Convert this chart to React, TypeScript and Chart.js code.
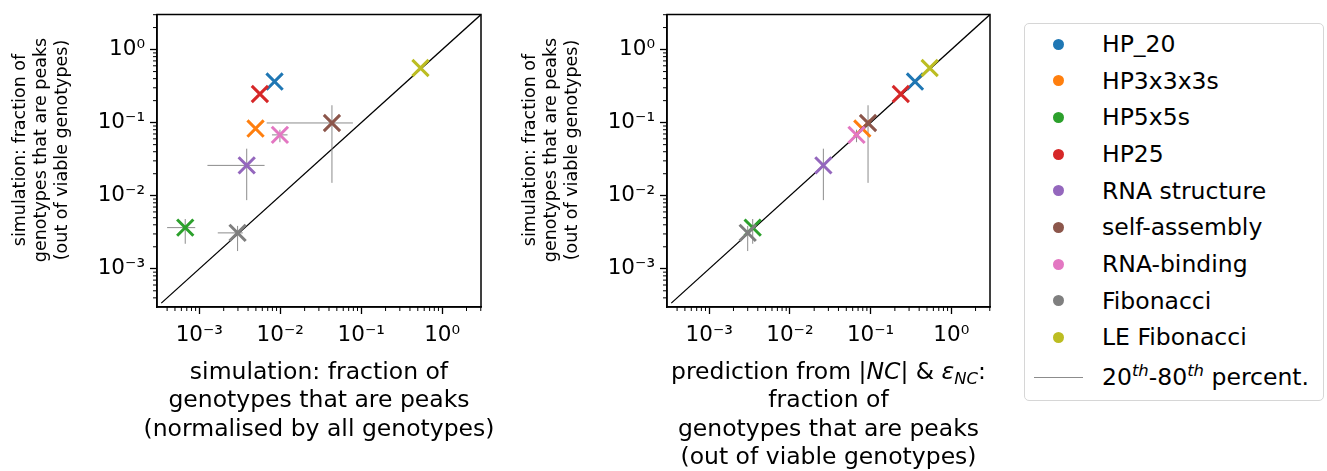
import React, { useEffect, useRef } from 'react';
import { Chart, registerables } from 'chart.js';

Chart.register(...registerables);

// ---------- data ----------
const categories = ['HP_20', 'HP3x3x3s', 'HP5x5s', 'HP25', 'RNA structure', 'self-assembly', 'RNA-binding', 'Fibonacci', 'LE Fibonacci'];
const seriesColors = ['#1f77b4', '#ff7f0e', '#2ca02c', '#d62728', '#9467bd', '#8c564b', '#e377c2', '#7f7f7f', '#bcbd22'];

// simulation: fraction of genotypes that are peaks (normalised by all genotypes)
const simAllGenotypes = [0.0085, 0.00495, 0.00067, 0.0056, 0.00385, 0.0435, 0.0099, 0.00297, 0.54];
const simAllLo = [null, null, 0.0004, null, 0.00126, 0.0068, 0.0079, 0.00169, null];
const simAllHi = [null, null, 0.00089, null, 0.0064, 0.079, 0.0123, 0.00344, null];

// simulation: fraction of genotypes that are peaks (out of viable genotypes)
const simViable = [0.365, 0.083, 0.00366, 0.247, 0.026, 0.099, 0.068, 0.0031, 0.56];
const simViableLo = [null, null, 0.0022, null, 0.0087, 0.015, 0.054, 0.00175, null];
const simViableHi = [null, null, 0.0048, null, 0.044, 0.173, 0.080, 0.00386, null];

// prediction from |NC| & eps_NC
const predicted = [0.355, 0.079, 0.00346, 0.237, 0.026, 0.093, 0.067, 0.0030, 0.54];

const tickValues = [0.001, 0.01, 0.1, 1];
const tickLabels = ['10⁻³', '10⁻²', '10⁻¹', '10⁰'];
const axisMin = Math.pow(10, -3.47);
const axisMax = Math.pow(10, 0.48);

const yTitle = ['simulation: fraction of', 'genotypes that are peaks', '(out of viable genotypes)'];
type Seg = { t: string; i?: boolean; sub?: boolean };
const leftXTitle: Seg[][] = [
  [{ t: 'simulation: fraction of' }],
  [{ t: 'genotypes that are peaks' }],
  [{ t: '(normalised by all genotypes)' }],
];
const rightXTitle: Seg[][] = [
  [{ t: 'prediction from |' }, { t: 'NC', i: true }, { t: '| & ' }, { t: 'ε', i: true }, { t: 'NC', i: true, sub: true }, { t: ':' }],
  [{ t: 'fraction of' }],
  [{ t: 'genotypes that are peaks' }],
  [{ t: '(out of viable genotypes)' }],
];

const FONT = '"DejaVu Sans", sans-serif';

function framePlugin() {
  return {
    id: 'frameMinor',
    afterDraw(chart: any) {
      const ctx = chart.ctx;
      const a = chart.chartArea;
      const xs = chart.scales.x;
      const ys = chart.scales.y;
      ctx.save();
      ctx.strokeStyle = '#000';
      ctx.lineWidth = 1;
      for (let e = -4; e <= 0; e++) {
        for (let k = 2; k <= 9; k++) {
          const v = k * Math.pow(10, e);
          if (v < axisMin || v > axisMax) continue;
          const px = xs.getPixelForValue(v);
          ctx.beginPath();
          ctx.moveTo(px, a.bottom);
          ctx.lineTo(px, a.bottom + 4);
          ctx.stroke();
          const py = ys.getPixelForValue(v);
          ctx.beginPath();
          ctx.moveTo(a.left, py);
          ctx.lineTo(a.left - 4, py);
          ctx.stroke();
        }
      }
      ctx.lineWidth = 1.5;
      ctx.strokeRect(a.left, a.top, a.right - a.left, a.bottom - a.top);
      ctx.restore();
    },
  };
}

function titlesPlugin(lines: Seg[][], baseline: number, lineHeight: number, size: number) {
  return {
    id: 'titlesRich',
    afterDraw(chart: any) {
      const ctx = chart.ctx;
      const a = chart.chartArea;
      const cx = (a.left + a.right) / 2;
      ctx.save();
      ctx.fillStyle = '#000';
      ctx.textBaseline = 'alphabetic';
      ctx.textAlign = 'left';
      const fontFor = (s: Seg) => `${s.i ? 'italic ' : ''}${s.sub ? size * 0.7 : size}px ${FONT}`;
      lines.forEach((segs, li) => {
        const base = baseline + li * lineHeight;
        let w = 0;
        segs.forEach((s) => {
          ctx.font = fontFor(s);
          w += ctx.measureText(s.t).width;
        });
        let xx = cx - w / 2;
        segs.forEach((s) => {
          ctx.font = fontFor(s);
          ctx.fillText(s.t, xx, base + (s.sub ? size * 0.2 : 0));
          xx += ctx.measureText(s.t).width;
        });
      });
      // rotated y-axis title
      ctx.font = `17.5px ${FONT}`;
      ctx.textAlign = 'center';
      ctx.textBaseline = 'middle';
      yTitle.forEach((t, li) => {
        ctx.save();
        ctx.translate(20 + li * 21.2, 150);
        ctx.rotate(-Math.PI / 2);
        ctx.fillText(t, 0, 0);
        ctx.restore();
      });
      ctx.restore();
    },
  };
}

function makeConfig(xVals: number[], xLo: (number | null)[] | null, xHi: (number | null)[] | null, titleLines: Seg[][], rightPad: number) {
  const datasets: any[] = [];
  datasets.push({
    label: 'diagonal',
    data: [{ x: axisMin, y: axisMin }, { x: axisMax, y: axisMax }],
    showLine: true,
    borderColor: '#000',
    borderWidth: 1.3,
    pointRadius: 0,
    order: 100,
  });
  categories.forEach((_, i) => {
    if (simViableLo[i] != null) {
      datasets.push({
        label: 'err',
        data: [{ x: xVals[i], y: simViableLo[i] }, { x: xVals[i], y: simViableHi[i] }],
        showLine: true,
        borderColor: 'rgba(128,128,128,0.9)',
        borderWidth: 1,
        pointRadius: 0,
        order: 50,
      });
    }
    if (xLo && xHi && xLo[i] != null) {
      datasets.push({
        label: 'err',
        data: [{ x: xLo[i], y: simViable[i] }, { x: xHi[i], y: simViable[i] }],
        showLine: true,
        borderColor: 'rgba(128,128,128,0.9)',
        borderWidth: 1,
        pointRadius: 0,
        order: 50,
      });
    }
  });
  categories.forEach((c, i) => {
    datasets.push({
      label: c,
      data: [{ x: xVals[i], y: simViable[i] }],
      pointStyle: 'crossRot',
      pointRadius: 11.5,
      pointHoverRadius: 11.5,
      pointBorderWidth: 3,
      pointHoverBorderWidth: 3,
      pointBorderColor: seriesColors[i],
      pointBackgroundColor: seriesColors[i],
      borderColor: seriesColors[i],
      backgroundColor: seriesColors[i],
      order: 20 - i,
    });
  });

  const zeroPad = (s: any) => {
    s.paddingLeft = 0;
    s.paddingRight = 0;
    s.paddingTop = 0;
    s.paddingBottom = 0;
  };
  const label = (v: any) => {
    const idx = tickValues.indexOf(Number(v));
    return idx >= 0 ? tickLabels[idx] : '';
  };
  const tickFont = { family: FONT, size: 21.5 };
  const grid = { display: true, drawOnChartArea: false, drawTicks: true, tickLength: 7, tickColor: '#000', tickWidth: 1.3 };
  const border = { display: true, color: '#000', width: 1.5 };

  return {
    type: 'scatter',
    data: { datasets },
    options: {
      animation: false,
      responsive: false,
      maintainAspectRatio: false,
      events: [],
      layout: { padding: { left: 0, top: 12, right: rightPad, bottom: 0 } },
      plugins: { legend: { display: false }, tooltip: { enabled: false } },
      scales: {
        x: {
          type: 'logarithmic',
          position: 'bottom',
          min: axisMin,
          max: axisMax,
          afterBuildTicks: (s: any) => {
            s.ticks = tickValues.map((v) => ({ value: v }));
          },
          afterFit: (s: any) => {
            s.height = 164;
            zeroPad(s);
          },
          ticks: { autoSkip: false, maxRotation: 0, minRotation: 0, padding: 9, color: '#000', font: tickFont, callback: label },
          grid,
          border,
          title: { display: false },
        },
        y: {
          type: 'logarithmic',
          position: 'left',
          min: axisMin,
          max: axisMax,
          afterBuildTicks: (s: any) => {
            s.ticks = tickValues.map((v) => ({ value: v }));
          },
          afterFit: (s: any) => {
            s.width = 157;
            zeroPad(s);
          },
          ticks: { autoSkip: false, padding: 5, color: '#000', font: tickFont, callback: label },
          grid,
          border,
          title: { display: false },
        },
      },
    },
    plugins: [framePlugin(), titlesPlugin(titleLines, 379, 28.3, 23.5)],
  };
}

function Sup({ children }: { children: React.ReactNode }) {
  return (
    <span style={{ fontSize: '0.7em', fontStyle: 'italic', position: 'relative', top: '-0.55em' }}>{children}</span>
  );
}

export default function App() {
  const leftRef = useRef<HTMLCanvasElement>(null);
  const rightRef = useRef<HTMLCanvasElement>(null);

  useEffect(() => {
    const c1 = new Chart(leftRef.current as HTMLCanvasElement, makeConfig(simAllGenotypes, simAllLo, simAllHi, leftXTitle, 19) as any);
    const c2 = new Chart(rightRef.current as HTMLCanvasElement, makeConfig(predicted, null, null, rightXTitle, 20) as any);
    return () => {
      c1.destroy();
      c2.destroy();
    };
  }, []);

  const rowSpacing = 36.67;
  return (
    <div style={{ position: 'absolute', left: 0, top: 0, width: 1327, height: 471, background: '#fff', overflow: 'hidden', fontFamily: FONT }}>
      <canvas ref={leftRef} width={500} height={471} style={{ position: 'absolute', left: 0, top: 0 }} />
      <canvas ref={rightRef} width={500} height={471} style={{ position: 'absolute', left: 510, top: 0 }} />
      <div
        style={{
          position: 'absolute',
          left: 1024,
          top: 23,
          width: 300,
          height: 378,
          boxSizing: 'border-box',
          border: '1.5px solid #d6d6d6',
          borderRadius: 5,
          background: '#fff',
        }}
      >
        {categories.map((c, i) => {
          const cy = 20 + i * rowSpacing;
          return (
            <React.Fragment key={c}>
              <div
                style={{
                  position: 'absolute',
                  left: 27.5,
                  top: cy - 5.5,
                  width: 11,
                  height: 11,
                  borderRadius: '50%',
                  background: seriesColors[i],
                }}
              />
              <div
                style={{
                  position: 'absolute',
                  left: 77,
                  top: cy - 14,
                  height: 28,
                  lineHeight: '28px',
                  fontSize: 23.5,
                  color: '#000',
                  whiteSpace: 'nowrap',
                }}
              >
                {c}
              </div>
            </React.Fragment>
          );
        })}
        {(() => {
          const cy = 20 + categories.length * rowSpacing + 3;
          return (
            <React.Fragment>
              <div style={{ position: 'absolute', left: 9, top: cy - 0.5, width: 49, height: 1, background: 'rgba(128,128,128,0.9)' }} />
              <div
                style={{
                  position: 'absolute',
                  left: 77,
                  top: cy - 14,
                  height: 28,
                  lineHeight: '28px',
                  fontSize: 23.5,
                  color: '#000',
                  whiteSpace: 'nowrap',
                }}
              >
                20<Sup>th</Sup>-80<Sup>th</Sup> percent.
              </div>
            </React.Fragment>
          );
        })()}
      </div>
    </div>
  );
}
